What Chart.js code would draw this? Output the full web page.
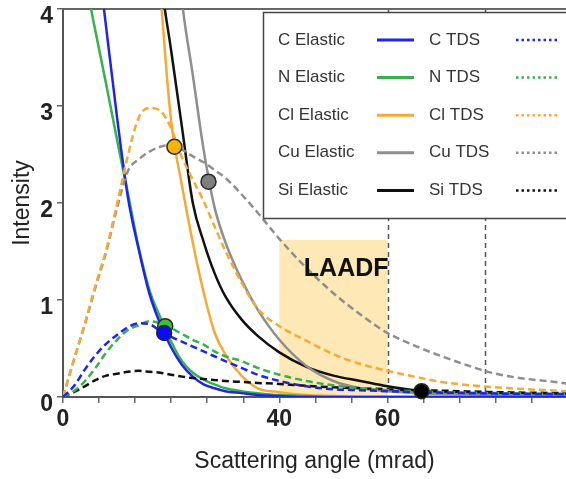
<!DOCTYPE html>
<html>
<head>
<meta charset="utf-8">
<script src="https://cdn.jsdelivr.net/npm/chart.js@4.4.1/dist/chart.umd.min.js"></script>
<style>
  html, body { margin: 0; padding: 0; background: #fff; }
</style>
</head>
<body>
<canvas id="chart" width="566" height="479"></canvas>
<script>
// scattering angle grid (mrad) shared by every curve
const angles = [0, 2, 4, 6, 8, 10, 12, 14, 16, 18, 20, 22, 24, 26, 28, 30, 33, 36, 40, 45, 50, 55, 60, 65, 70, 80, 93];

// elastic intensities (values above 4 run off the top of the plot)
const cElastic  = [7.6, 6.65, 5.7, 4.75, 3.8, 2.88, 2.06, 1.52, 1.06, 0.75, 0.51, 0.33, 0.21, 0.13, 0.09, 0.06, 0.04, 0.02, 0.01, 0, 0, 0, 0, 0, 0, 0, 0];
const nElastic  = [5.5, 4.9, 4.33, 3.77, 3.22, 2.65, 2.1, 1.54, 1.1, 0.82, 0.57, 0.37, 0.25, 0.18, 0.13, 0.09, 0.06, 0.04, 0.02, 0.01, 0, 0, 0, 0, 0, 0, 0];
const clElastic = [30, 26, 22, 18, 15, 12, 10, 8, 6, 4.2, 2.84, 2.18, 1.59, 1.08, 0.67, 0.44, 0.22, 0.09, 0.05, 0.02, 0.01, 0, 0, 0, 0, 0, 0];
const cuElastic = [50, 42, 35, 29, 24, 19, 15, 12, 9, 7, 5.3, 4.08, 3.32, 2.55, 1.96, 1.6, 1.21, 0.9, 0.59, 0.32, 0.165, 0.09, 0.06, 0.04, 0.03, 0.02, 0.01];
const siElastic = [40, 34, 28, 22, 17, 13, 10, 7.5, 5.6, 4.35, 3.57, 2.78, 2.0, 1.6, 1.28, 1.04, 0.8, 0.63, 0.46, 0.31, 0.22, 0.165, 0.11, 0.07, 0.05, 0.03, 0.02];

// thermal diffuse scattering intensities
const cTDS  = [0, 0.11, 0.28, 0.43, 0.55, 0.64, 0.72, 0.76, 0.75, 0.68, 0.62, 0.57, 0.52, 0.47, 0.42, 0.37, 0.3, 0.23, 0.165, 0.11, 0.08, 0.07, 0.06, 0.05, 0.045, 0.035, 0.03];
const nTDS  = [0, 0.06, 0.16, 0.3, 0.46, 0.59, 0.69, 0.74, 0.78, 0.76, 0.71, 0.65, 0.59, 0.54, 0.47, 0.42, 0.37, 0.3, 0.23, 0.165, 0.12, 0.09, 0.07, 0.06, 0.05, 0.04, 0.03];
const clTDS = [0, 0.38, 0.75, 1.15, 1.52, 1.99, 2.49, 2.88, 2.98, 2.95, 2.77, 2.47, 2.24, 2.02, 1.76, 1.51, 1.18, 0.91, 0.73, 0.58, 0.44, 0.34, 0.27, 0.21, 0.155, 0.1, 0.06];
const cuTDS = [0, 0.38, 0.74, 1.13, 1.5, 1.95, 2.33, 2.45, 2.53, 2.58, 2.6, 2.55, 2.48, 2.42, 2.34, 2.26, 2.09, 1.9, 1.63, 1.33, 1.07, 0.85, 0.66, 0.53, 0.42, 0.24, 0.14];
const siTDS = [0, 0.05, 0.11, 0.175, 0.22, 0.24, 0.26, 0.27, 0.26, 0.25, 0.23, 0.21, 0.195, 0.185, 0.175, 0.165, 0.155, 0.145, 0.135, 0.115, 0.1, 0.09, 0.08, 0.07, 0.065, 0.05, 0.04];

const elements = ['C', 'N', 'Cl', 'Cu', 'Si'];
const elasticSeries = [cElastic, nElastic, clElastic, cuElastic, siElastic];
const tdsSeries = [cTDS, nTDS, clTDS, cuTDS, siTDS];
const lineColors = ['#1f24e8', '#35b24a', '#f7a935', '#8e8e8e', '#111111'];

// highlighted points (N first so the C point sits in front of it)
const markerX = [18.9, 18.7, 20.6, 26.9, 66.3];
const markerY = [0.73, 0.66, 2.58, 2.22, 0.06];
const markerFill = ['#3cc03c', '#0a0aff', '#f7b500', '#7f7f7f', '#000000'];

// axis ticks and annotations
const xTickValues = [0, 6.667, 13.333, 20, 26.667, 33.333, 40, 46.667, 53.333, 60, 66.667, 73.333, 80, 86.667];
const xLabelValues = [0, 40, 60];
const laadfRange = [40, 60];
const laadfTop = 1.62;
const guideLines = [60, 78];

const FONT = "'Liberation Sans', Arial, sans-serif";

const toPoints = (ys) => angles.map((x, i) => ({ x, y: ys[i] }));

const datasets = [];
datasets.push({
  label: 'markers',
  data: markerX.map((x, i) => ({ x, y: markerY[i] })),
  showLine: false,
  pointRadius: 7.5,
  pointBackgroundColor: markerFill,
  pointBorderColor: '#2a2a2a',
  pointBorderWidth: 1.5,
  clip: false,
  order: 0,
});
elements.forEach((el, i) => {
  datasets.push({
    label: `${el} TDS`,
    data: toPoints(tdsSeries[i]),
    borderColor: lineColors[i],
    borderWidth: 2.5,
    borderDash: [7, 4],
    pointRadius: 0,
    cubicInterpolationMode: 'monotone',
    fill: false,
    order: 1,
  });
});
elements.forEach((el, i) => {
  datasets.push({
    label: `${el} Elastic`,
    data: toPoints(elasticSeries[i]),
    borderColor: lineColors[i],
    borderWidth: 2.5,
    pointRadius: 0,
    cubicInterpolationMode: 'monotone',
    fill: false,
    order: 2,
  });
});

// shaded LAADF range, dashed guides and top frame line
const annotations = {
  id: 'annotations',
  beforeDatasetsDraw(chart) {
    const { ctx, chartArea, scales: { x, y } } = chart;
    ctx.save();
    const x0 = x.getPixelForValue(laadfRange[0]);
    const x1 = x.getPixelForValue(laadfRange[1]);
    const yTop = y.getPixelForValue(laadfTop);
    ctx.fillStyle = '#fde8b6';
    ctx.fillRect(x0, yTop, x1 - x0, chartArea.bottom - yTop);

    ctx.strokeStyle = '#555';
    ctx.lineWidth = 1.5;
    ctx.setLineDash([5, 4]);
    guideLines.forEach((v) => {
      const px = Math.round(x.getPixelForValue(v)) + 0.5;
      ctx.beginPath();
      ctx.moveTo(px, chartArea.top);
      ctx.lineTo(px, chartArea.bottom);
      ctx.stroke();
    });
    ctx.setLineDash([]);
    ctx.strokeStyle = '#666';
    ctx.lineWidth = 2;
    ctx.beginPath();
    ctx.moveTo(chartArea.left, chartArea.top);
    ctx.lineTo(chartArea.right, chartArea.top);
    ctx.stroke();
    ctx.restore();
  },
  afterDatasetsDraw(chart) {
    const { ctx, scales: { x, y } } = chart;
    ctx.save();
    ctx.font = `bold 25px ${FONT}`;
    ctx.fillStyle = '#111';
    ctx.textAlign = 'right';
    ctx.textBaseline = 'middle';
    ctx.fillText('LAADF', x.getPixelForValue(laadfRange[1]) + 1, y.getPixelForValue(1.32));
    ctx.restore();
  },
};

// two-column legend box: elastic (solid) and TDS (dotted)
const legendBox = {
  id: 'legendBox',
  afterDraw(chart) {
    const ctx = chart.ctx;
    ctx.save();
    ctx.fillStyle = '#fff';
    ctx.fillRect(263, 12, 320, 206);
    ctx.strokeStyle = '#444';
    ctx.lineWidth = 1.5;
    ctx.strokeRect(263.5, 12.5, 320, 206);
    ctx.font = `17px ${FONT}`;
    ctx.textBaseline = 'middle';
    elements.forEach((el, i) => {
      const rowY = 40 + i * 37.6;
      ctx.fillStyle = '#333';
      ctx.fillText(`${el} Elastic`, 278, rowY);
      ctx.fillText(`${el} TDS`, 429, rowY);
      ctx.strokeStyle = lineColors[i];
      ctx.lineWidth = 3;
      ctx.setLineDash([]);
      ctx.beginPath();
      ctx.moveTo(377, rowY);
      ctx.lineTo(414, rowY);
      ctx.stroke();
      ctx.lineWidth = 2.5;
      ctx.setLineDash([2.5, 3]);
      ctx.beginPath();
      ctx.moveTo(516, rowY);
      ctx.lineTo(560, rowY);
      ctx.stroke();
    });
    ctx.restore();
  },
};

new Chart(document.getElementById('chart'), {
  type: 'line',
  data: { datasets },
  plugins: [annotations, legendBox],
  options: {
    responsive: false,
    animation: false,
    layout: { autoPadding: false, padding: { top: 9, right: 0, left: 0, bottom: 0 } },
    plugins: {
      legend: { display: false },
      tooltip: { enabled: false },
    },
    scales: {
      x: {
        type: 'linear',
        min: 0,
        max: 93,
        afterBuildTicks: (scale) => {
          scale.ticks = xTickValues.map((v) => ({ value: v }));
        },
        afterFit: (scale) => {
          scale.height = 82;
          scale.paddingLeft = 0;
          scale.paddingRight = 0;
        },
        grid: { drawOnChartArea: false, drawTicks: true, tickLength: 6, color: '#666', lineWidth: 1.5 },
        border: { color: '#555', width: 2 },
        ticks: {
          autoSkip: false,
          maxRotation: 0,
          padding: 3,
          color: '#222',
          font: { family: FONT, size: 23, weight: 'bold' },
          callback: (v) => (xLabelValues.includes(v) ? String(v) : ''),
        },
        title: {
          display: true,
          text: 'Scattering angle (mrad)',
          color: '#222',
          font: { family: FONT, size: 23 },
          padding: { top: 4, bottom: 4 },
        },
      },
      y: {
        min: 0,
        max: 4,
        afterFit: (scale) => {
          scale.width = 63;
          scale.paddingTop = 0;
          scale.paddingBottom = 0;
        },
        grid: { drawOnChartArea: false, drawTicks: true, tickLength: 6, color: '#666', lineWidth: 1.5 },
        border: { color: '#555', width: 2 },
        ticks: {
          stepSize: 1,
          padding: 4,
          labelOffset: 8,
          color: '#222',
          font: { family: FONT, size: 23, weight: 'bold' },
        },
        title: {
          display: true,
          text: 'Intensity',
          color: '#222',
          font: { family: FONT, size: 23 },
          padding: { top: 9, bottom: 0 },
        },
      },
    },
  },
});
</script>
</body>
</html>
